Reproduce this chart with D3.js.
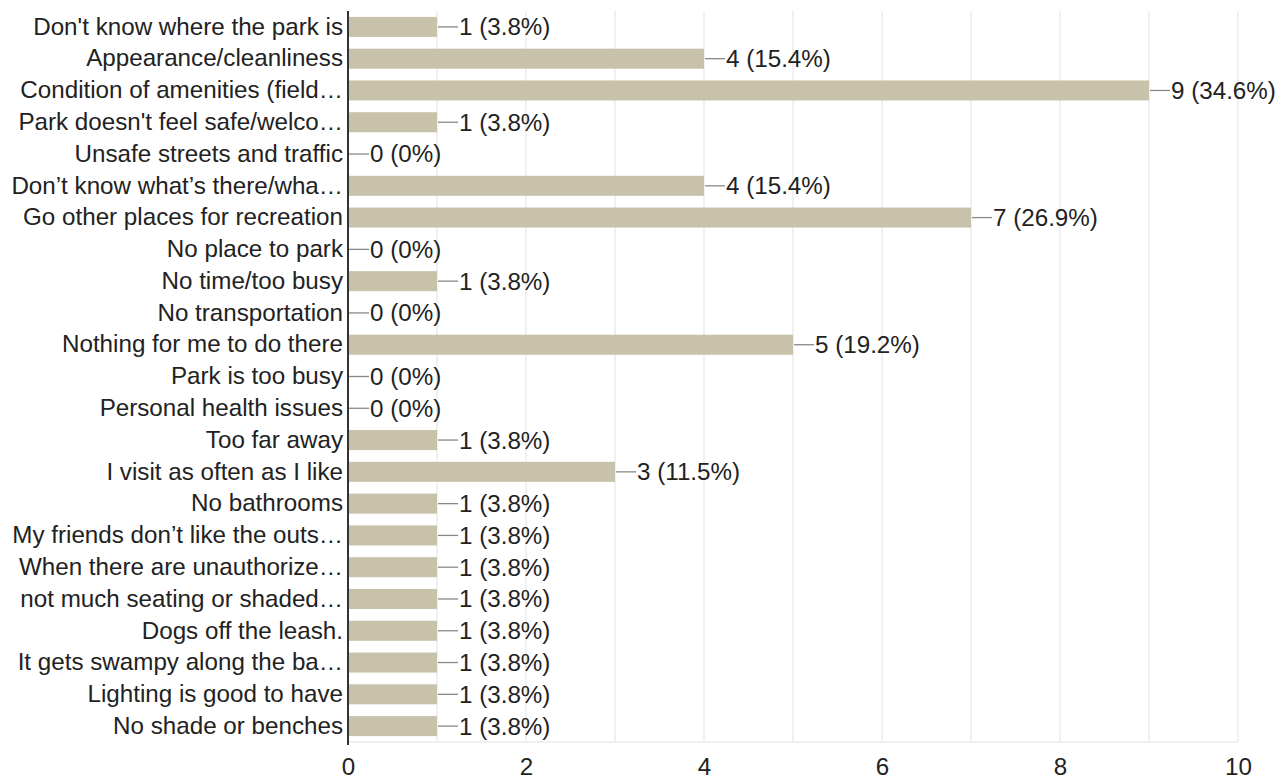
<!DOCTYPE html>
<html>
<head>
<meta charset="utf-8">
<script src="https://cdn.jsdelivr.net/npm/d3@7"></script>
<style>
  body { margin: 0; background: #fff; }
  text { font-family: "Liberation Sans", Arial, sans-serif; }
</style>
</head>
<body>
<div id="container"></div>
<script>
// chart data
const categories = [
    "Don't know where the park is",
    "Appearance/cleanliness",
    "Condition of amenities (field\u2026",
    "Park doesn't feel safe/welco\u2026",
    "Unsafe streets and traffic",
    "Don\u2019t know what\u2019s there/wha\u2026",
    "Go other places for recreation",
    "No place to park",
    "No time/too busy",
    "No transportation",
    "Nothing for me to do there",
    "Park is too busy",
    "Personal health issues",
    "Too far away",
    "I visit as often as I like",
    "No bathrooms",
    "My friends don\u2019t like the outs\u2026",
    "When there are unauthorize\u2026",
    "not much seating or shaded\u2026",
    "Dogs off the leash.",
    "It gets swampy along the ba\u2026",
    "Lighting is good to have",
    "No shade or benches"
];
const counts = [1, 4, 9, 1, 0, 4, 7, 0, 1, 0, 5, 0, 0, 1, 3, 1, 1, 1, 1, 1, 1, 1, 1];
const percents = ["3.8%", "15.4%", "34.6%", "3.8%", "0%", "15.4%", "26.9%", "0%", "3.8%", "0%",
    "19.2%", "0%", "0%", "3.8%", "11.5%", "3.8%", "3.8%", "3.8%", "3.8%", "3.8%", "3.8%", "3.8%", "3.8%"];
const xTicks = [0, 2, 4, 6, 8, 10];

const WIDTH = 1281;
const HEIGHT = 780;
const FONT = 24.2;
const margin = { top: 11, right: 43, bottom: 38, left: 348 };
const innerW = WIDTH - margin.left - margin.right;
const innerH = HEIGHT - margin.top - margin.bottom;

const svg = d3.select("#container")
    .append("svg")
    .attr("width", WIDTH)
    .attr("height", HEIGHT);

const g = svg.append("g")
    .attr("transform", "translate(" + margin.left + "," + margin.top + ")");

const xScale = d3.scaleLinear()
    .domain([0, 10])
    .range([0, innerW]);

const yScale = d3.scaleBand()
    .domain(categories)
    .range([0, innerH])
    .paddingInner(0.37)
    .paddingOuter(0.185);

// vertical gridlines every unit
g.append("g")
    .selectAll("line")
    .data(d3.range(1, 11))
    .enter()
    .append("line")
    .attr("x1", (d) => xScale(d))
    .attr("x2", (d) => xScale(d))
    .attr("y1", 0)
    .attr("y2", innerH)
    .attr("stroke", "#ebebeb")
    .attr("stroke-width", 1.5);

// bottom border
g.append("line")
    .attr("x1", 0)
    .attr("x2", innerW)
    .attr("y1", innerH)
    .attr("y2", innerH)
    .attr("stroke", "#ebebeb")
    .attr("stroke-width", 1.5);

// bars
g.selectAll("rect.bar")
    .data(categories)
    .enter()
    .append("rect")
    .attr("class", "bar")
    .attr("x", 0)
    .attr("y", (d) => yScale(d))
    .attr("width", (d, i) => xScale(counts[i]))
    .attr("height", yScale.bandwidth())
    .attr("fill", "#c8c2aa");

// connector lines and value labels
const labels = g.append("g");
categories.forEach((c, i) => {
    const cy = yScale(c) + yScale.bandwidth() / 2;
    const x0 = xScale(counts[i]);
    labels.append("line")
        .attr("x1", x0 + 1)
        .attr("x2", x0 + 21)
        .attr("y1", cy)
        .attr("y2", cy)
        .attr("stroke", "#888")
        .attr("stroke-width", 1.3);
    labels.append("text")
        .attr("x", x0 + 22)
        .attr("y", cy)
        .attr("dy", "0.35em")
        .attr("font-size", FONT)
        .attr("fill", "#222")
        .text(counts[i] + " (" + percents[i] + ")");
});

// left axis with category labels
const leftAxis = d3.axisLeft(yScale).tickSize(0).tickPadding(5);
const ly = g.append("g").call(leftAxis);
ly.select(".domain").remove();
ly.selectAll("text")
    .attr("font-size", FONT)
    .attr("fill", "#222")
    .style("font-family", '"Liberation Sans", Arial, sans-serif');

g.append("line")
    .attr("x1", 0)
    .attr("x2", 0)
    .attr("y1", 0)
    .attr("y2", innerH + 3)
    .attr("stroke", "#333")
    .attr("stroke-width", 2);

// bottom axis tick labels
const bottomAxis = d3.axisBottom(xScale).tickValues(xTicks).tickSize(0).tickPadding(16);
const bx = g.append("g")
    .attr("transform", "translate(0," + innerH + ")")
    .call(bottomAxis);
bx.select(".domain").remove();
bx.selectAll("text")
    .attr("font-size", FONT)
    .attr("fill", "#222")
    .style("font-family", '"Liberation Sans", Arial, sans-serif');
</script>
</body>
</html>
